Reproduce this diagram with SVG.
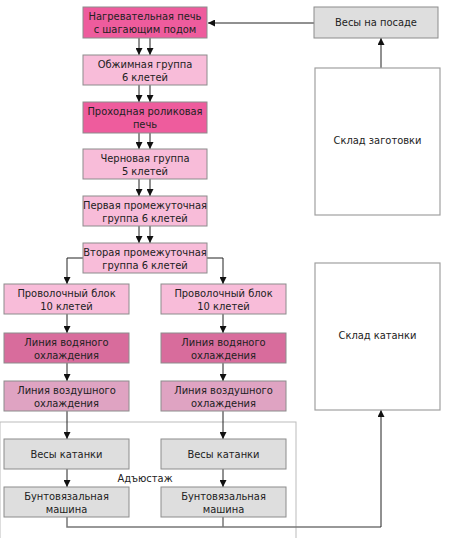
<svg xmlns="http://www.w3.org/2000/svg" width="450" height="538" viewBox="0 0 450 538">
<style>
.b{stroke:#8c8c8c;stroke-width:1}
.hot{fill:#ee5c9d}
.lt{fill:#f8bcd9}
.wc{fill:#d86c9c}
.ac{fill:#dfa3c2}
.gr{fill:#dedede}
.wh{fill:#ffffff;stroke:#a0a0a0;stroke-width:1.2}
text{font-family:"DejaVu Sans Condensed","DejaVu Sans",sans-serif;font-size:11px;fill:#222;text-anchor:middle}
.ln{fill:none;stroke:#222;stroke-width:1}
.gl{fill:none;stroke:#777;stroke-width:1.5}
</style>
<defs>
<marker id="a" viewBox="0 0 10 10" refX="10" refY="5" markerWidth="7" markerHeight="7" markerUnits="userSpaceOnUse" orient="auto">
<path d="M0,0L10,5L0,10z" fill="#111"/>
</marker>
</defs>
<rect x="0" y="422" width="296" height="120" fill="none" stroke="#bbbbbb" stroke-width="1"/>
<g id="connectors">
<path class="ln" marker-end="url(#a)" d="M139,38V55"/>
<path class="ln" marker-end="url(#a)" d="M150,38V55"/>
<path class="ln" marker-end="url(#a)" d="M139,85V102"/>
<path class="ln" marker-end="url(#a)" d="M150,85V102"/>
<path class="ln" marker-end="url(#a)" d="M139,133V149"/>
<path class="ln" marker-end="url(#a)" d="M150,133V149"/>
<path class="ln" marker-end="url(#a)" d="M139,179V196"/>
<path class="ln" marker-end="url(#a)" d="M150,179V196"/>
<path class="ln" marker-end="url(#a)" d="M139,226V243"/>
<path class="ln" marker-end="url(#a)" d="M150,226V243"/>
<path class="ln" marker-end="url(#a)" d="M83,258H67V284"/>
<path class="ln" marker-end="url(#a)" d="M207,258H223V284"/>
<path class="ln" marker-end="url(#a)" d="M67,314V333"/>
<path class="ln" marker-end="url(#a)" d="M223,314V333"/>
<path class="ln" marker-end="url(#a)" d="M67,363V381"/>
<path class="ln" marker-end="url(#a)" d="M223,363V381"/>
<path class="ln" marker-end="url(#a)" d="M67,411V439"/>
<path class="ln" marker-end="url(#a)" d="M223,411V439"/>
<path class="ln" marker-end="url(#a)" d="M67,469V487"/>
<path class="ln" marker-end="url(#a)" d="M223,469V487"/>
<path class="gl" d="M67,517V527H381"/>
<path class="gl" d="M223,517V527"/>
<path class="ln" marker-end="url(#a)" d="M381,527V410"/>
<path class="ln" marker-end="url(#a)" d="M381,68V38"/>
<path class="ln" marker-end="url(#a)" d="M314,23H208"/>
</g>
<g id="n1"><rect class="b hot" x="83" y="7" width="124" height="31"/><text x="145" y="20">Нагревательная печь</text><text x="145" y="33">с шагающим подом</text></g>
<g id="n2"><rect class="b lt" x="83" y="55" width="124" height="30"/><text x="145" y="68">Обжимная группа</text><text x="145" y="81">6 клетей</text></g>
<g id="n3"><rect class="b hot" x="83" y="102" width="124" height="31"/><text x="145" y="115">Проходная роликовая</text><text x="145" y="128">печь</text></g>
<g id="n4"><rect class="b lt" x="83" y="149" width="124" height="30"/><text x="145" y="162">Черновая группа</text><text x="145" y="175">5 клетей</text></g>
<g id="n5"><rect class="b lt" x="83" y="196" width="124" height="30"/><text x="145" y="209">Первая промежуточная</text><text x="145" y="222">группа 6 клетей</text></g>
<g id="n6"><rect class="b lt" x="83" y="243" width="124" height="30"/><text x="145" y="256">Вторая промежуточная</text><text x="145" y="269">группа 6 клетей</text></g>
<g id="n7"><rect class="b lt" x="4" y="284" width="125" height="30"/><text x="66.5" y="297">Проволочный блок</text><text x="66.5" y="310">10 клетей</text></g>
<g id="n8"><rect class="b lt" x="161" y="284" width="125" height="30"/><text x="223.5" y="297">Проволочный блок</text><text x="223.5" y="310">10 клетей</text></g>
<g id="n9"><rect class="b wc" x="4" y="333" width="125" height="30"/><text x="66.5" y="346">Линия водяного</text><text x="66.5" y="359">охлаждения</text></g>
<g id="n10"><rect class="b wc" x="161" y="333" width="125" height="30"/><text x="223.5" y="346">Линия водяного</text><text x="223.5" y="359">охлаждения</text></g>
<g id="n11"><rect class="b ac" x="4" y="381" width="125" height="30"/><text x="66.5" y="394">Линия воздушного</text><text x="66.5" y="407">охлаждения</text></g>
<g id="n12"><rect class="b ac" x="161" y="381" width="125" height="30"/><text x="223.5" y="394">Линия воздушного</text><text x="223.5" y="407">охлаждения</text></g>
<g id="n13"><rect class="b gr" x="4" y="439" width="125" height="30"/><text x="66.5" y="458">Весы катанки</text></g>
<g id="n14"><rect class="b gr" x="161" y="439" width="125" height="30"/><text x="223.5" y="458">Весы катанки</text></g>
<g id="n15"><rect class="b gr" x="4" y="487" width="125" height="30"/><text x="66.5" y="500">Бунтовязальная</text><text x="66.5" y="513">машина</text></g>
<g id="n16"><rect class="b gr" x="161" y="487" width="125" height="30"/><text x="223.5" y="500">Бунтовязальная</text><text x="223.5" y="513">машина</text></g>
<g id="n17"><rect class="b gr" x="314" y="7" width="124" height="31"/><text x="376" y="26">Весы на посаде</text></g>
<g id="n18"><rect class="wh" x="315" y="68" width="125" height="147"/><text x="377.5" y="144">Склад заготовки</text></g>
<g id="n19"><rect class="wh" x="315" y="263" width="125" height="147"/><text x="377.5" y="339">Склад катанки</text></g>
<text x="145" y="482">Адъюстаж</text>
</svg>
